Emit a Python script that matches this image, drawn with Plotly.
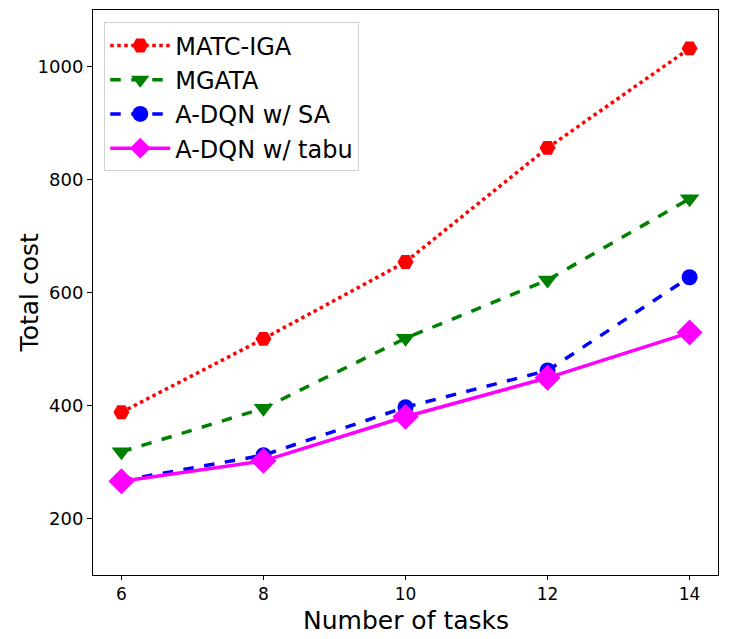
import plotly.graph_objects as go

tasks = [6, 8, 10, 12, 14]
matc_iga = [388, 518, 654, 856, 1032]
mgata = [318, 395, 519, 622, 766]
adqn_sa = [267, 312, 397, 462, 627]
adqn_tabu = [266, 302, 380, 449, 529]
y_ticks = [200, 400, 600, 800, 1000]

fig = go.Figure()
fig.add_trace(go.Scatter(x=tasks, y=matc_iga, name="MATC-IGA", mode="lines+markers",
                         line=dict(color="red", width=3.5, dash="dot"),
                         marker=dict(symbol="hexagon2", size=16, color="red")))
fig.add_trace(go.Scatter(x=tasks, y=mgata, name="MGATA", mode="lines+markers",
                         line=dict(color="green", width=3.5, dash="dash"),
                         marker=dict(symbol="triangle-down", size=17, color="green")))
fig.add_trace(go.Scatter(x=tasks, y=adqn_sa, name="A-DQN w/ SA", mode="lines+markers",
                         line=dict(color="blue", width=3.5, dash="dash"),
                         marker=dict(symbol="circle", size=16, color="blue")))
fig.add_trace(go.Scatter(x=tasks, y=adqn_tabu, name="A-DQN w/ tabu", mode="lines+markers",
                         line=dict(color="magenta", width=3.5),
                         marker=dict(symbol="diamond", size=20, color="magenta")))

fig.update_layout(
    width=730, height=631,
    margin=dict(l=85, r=20, t=2, b=64),
    paper_bgcolor="white", plot_bgcolor="white",
    font=dict(family="DejaVu Sans", color="black"),
    legend=dict(x=0.018, y=0.978, xanchor="left", yanchor="top",
                bordercolor="#d0d0d0", borderwidth=1, bgcolor="white",
                font=dict(size=24), itemwidth=60, tracegroupgap=0),
    showlegend=True,
    annotations=[
        dict(text="Number of tasks", x=0.5, y=-0.08, xref="paper", yref="paper",
             xanchor="center", yanchor="middle", showarrow=False, font=dict(size=25)),
        dict(text="Total cost", x=-0.101, y=0.5, xref="paper", yref="paper",
             xanchor="center", yanchor="middle", showarrow=False, textangle=-90,
             font=dict(size=25)),
    ],
)
fig.update_xaxes(range=[5.6, 14.4], tickvals=tasks, showline=True, linecolor="black",
                 linewidth=1, mirror=True, ticks="outside", ticklen=4, tickcolor="black",
                 showgrid=False, zeroline=False, tickfont=dict(size=17), automargin=False)
fig.update_yaxes(range=[100, 1100], tickvals=y_ticks, showline=True, linecolor="black",
                 linewidth=1, mirror=True, ticks="outside", ticklen=5, tickcolor="black",
                 showgrid=False, zeroline=False, tickfont=dict(size=18), automargin=False)

fig.write_html("out.html")
